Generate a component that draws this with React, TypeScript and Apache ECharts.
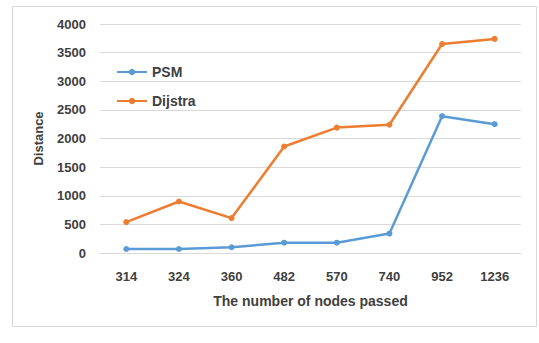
import React, { useEffect, useRef } from "react";
import * as echarts from "echarts";

const categories = ["314", "324", "360", "482", "570", "740", "952", "1236"];
const psm = [70, 70, 100, 180, 180, 340, 2390, 2250];
const dijstra = [540, 900, 610, 1860, 2190, 2240, 3650, 3740];
const yTicks = { min: 0, max: 4000, interval: 500 };

const FONT = "Liberation Sans";

export default function App() {
  const ref = useRef<HTMLDivElement>(null);
  useEffect(() => {
    if (!ref.current) return;
    const chart = echarts.init(ref.current, undefined, { renderer: "svg" });
    chart.setOption({
      animation: false,
      backgroundColor: "#ffffff",
      textStyle: { fontFamily: FONT },
      graphic: [
        {
          type: "rect",
          shape: { x: 12.5, y: 6.5, width: 524, height: 320 },
          style: { fill: "none", stroke: "#d9d9d9", lineWidth: 1 },
          silent: true,
        },
      ],
      legend: {
        orient: "vertical",
        left: 111,
        top: 60,
        itemGap: 15,
        itemWidth: 30,
        itemHeight: 8,
        textStyle: { fontFamily: FONT, fontSize: 14, fontWeight: "bold", color: "#404040" },
        data: ["PSM", "Dijstra"],
      },
      grid: { left: 100, right: 18, top: 24, bottom: 90, containLabel: false },
      xAxis: {
        type: "category",
        data: categories,
        boundaryGap: true,
        name: "The number of nodes passed",
        nameLocation: "middle",
        nameGap: 41,
        nameTextStyle: { fontFamily: FONT, fontSize: 14, fontWeight: "bold", color: "#404040" },
        axisLine: { show: true, lineStyle: { color: "#d9d9d9" } },
        axisTick: { show: false },
        axisLabel: { fontFamily: FONT, fontSize: 13, fontWeight: "bold", color: "#404040", margin: 17 },
      },
      yAxis: {
        type: "value",
        min: yTicks.min,
        max: yTicks.max,
        interval: yTicks.interval,
        name: "Distance",
        nameLocation: "middle",
        nameGap: 55,
        nameTextStyle: { fontFamily: FONT, fontSize: 13, fontWeight: "bold", color: "#404040" },
        axisLine: { show: false },
        axisTick: { show: false },
        axisLabel: {
          fontFamily: FONT,
          fontSize: 13,
          fontWeight: "bold",
          color: "#404040",
          margin: 14,
          formatter: (v: number) => String(v),
        },
        splitLine: { lineStyle: { color: "#d9d9d9" } },
      },
      series: [
        {
          name: "PSM",
          type: "line",
          data: psm,
          symbol: "circle",
          symbolSize: 6,
          lineStyle: { color: "#5b9bd5", width: 2.5 },
          itemStyle: { color: "#5b9bd5" },
        },
        {
          name: "Dijstra",
          type: "line",
          data: dijstra,
          symbol: "circle",
          symbolSize: 6,
          lineStyle: { color: "#ed7d31", width: 2.5 },
          itemStyle: { color: "#ed7d31" },
        },
      ],
    });
    return () => chart.dispose();
  }, []);
  return (
    <div
      ref={ref}
      style={{ position: "fixed", left: 0, top: 0, width: 539, height: 343 }}
    />
  );
}
